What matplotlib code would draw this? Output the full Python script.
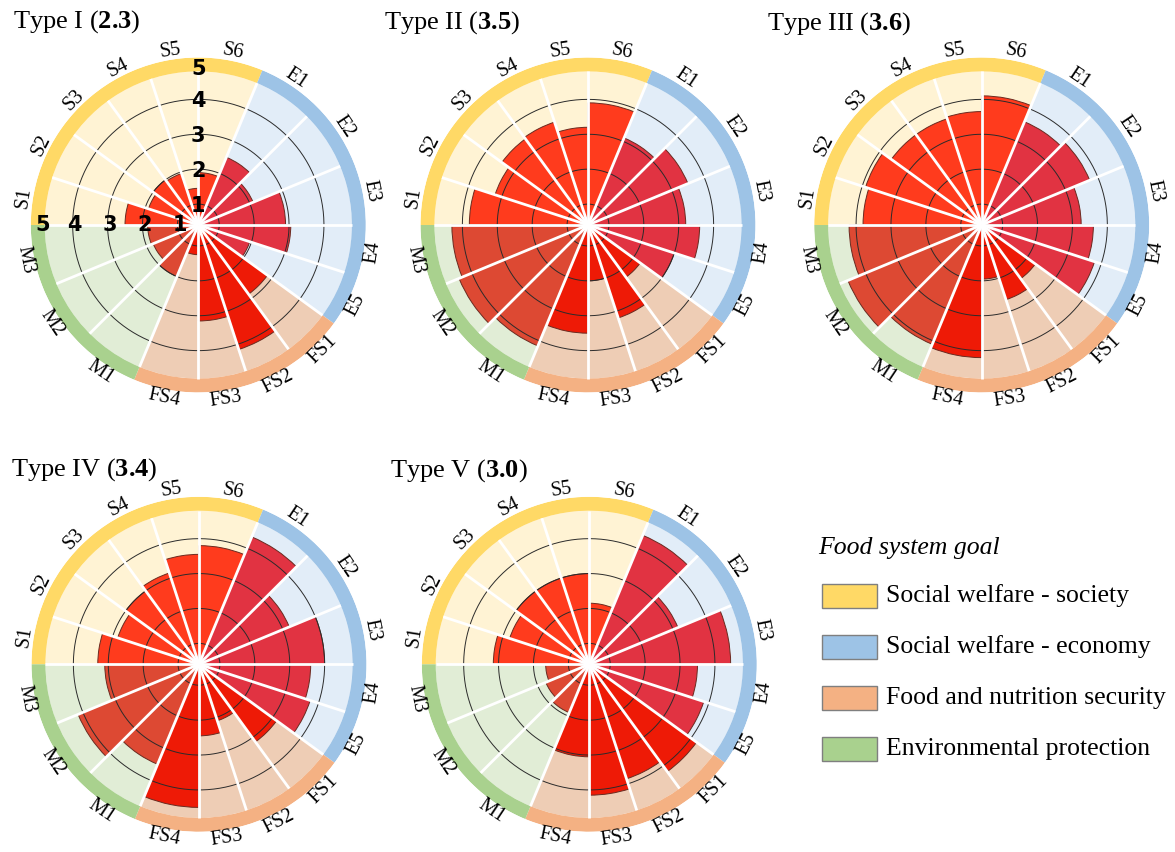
import matplotlib.pyplot as plt
import numpy as np
from matplotlib.patches import Rectangle

plt.rcParams.update(
    {
        "font.family": "Liberation Serif",
        "mathtext.fontset": "custom",
        "mathtext.rm": "Liberation Serif",
        "mathtext.bf": "Liberation Serif:bold",
    }
)

# indicator scores (1-5) per farm type, clockwise from S1
indicators = ["S1", "S2", "S3", "S4", "S5", "S6", "E1", "E2", "E3", "E4", "E5",
              "FS1", "FS2", "FS3", "FS4", "M1", "M2", "M3"]
type_names = ["Type I", "Type II", "Type III", "Type IV", "Type V"]
type_scores = [2.3, 3.5, 3.6, 3.4, 3.0]

type_i = [2.5, 1.9, 2.0, 1.95, 1.45, 1.9, 2.5, 2.1, 2.9, 3.05, 1.95,
          2.85, 4.15, 3.15, 1.25, 2.0, 1.8, 1.85]
type_ii = [3.8, 3.2, 3.45, 3.5, 3.2, 3.9, 3.1, 3.5, 3.2, 3.6, 3.0,
           2.25, 3.2, 2.0, 3.5, 4.15, 4.4, 4.3]
type_iii = [3.8, 3.9, 3.6, 3.6, 3.65, 4.1, 3.6, 3.75, 3.25, 3.6, 3.8,
            2.3, 2.65, 1.95, 4.2, 4.1, 4.55, 4.2]
type_iv = [3.3, 2.85, 3.0, 3.15, 3.55, 3.8, 4.35, 3.2, 4.0, 3.6, 3.75,
           3.15, 2.1, 2.45, 4.5, 3.5, 4.15, 3.1]
type_v = [3.15, 2.8, 3.0, 3.0, 3.0, 2.15, 4.4, 3.15, 4.45, 3.5, 3.85,
          4.2, 3.85, 4.15, 3.05, 1.9, 1.75, 1.65]

goal_keys = ["S", "E", "FS", "M"]
goal_names = ["Social welfare - society", "Social welfare - economy",
              "Food and nutrition security", "Environmental protection"]

ring_colors = {"S": "#FFD966", "E": "#9DC3E6", "FS": "#F4B183", "M": "#A9D18E"}
bg_colors = {"S": "#FFF3D4", "E": "#E2EDF8", "FS": "#EECDB5", "M": "#E1EDD6"}
bar_colors = {"S": "#FF3B1D", "E": "#E13342", "FS": "#EE1A06", "M": "#DD4933"}

R_MIN, R_BG, R_OUT, R_LAB = 0.4, 4.8, 5.2, 5.45
W, H = 1175, 852
PX_PER_UNIT = 34.9


def sector_layout():
    # quadrants from west, clockwise: 5, 4, 5, 4 sectors
    widths = np.concatenate([np.full(n, 90.0 / n) for n in [5, 4, 5, 4]])
    lefts = 270.0 + np.concatenate([[0.0], np.cumsum(widths)[:-1]])
    return np.deg2rad(lefts), np.deg2rad(widths)


def goal_of(name):
    return name.rstrip("0123456789")


def draw_wheel(fig, cx, cy, values, tick_labels=False):
    radius = (R_OUT - R_MIN) * PX_PER_UNIT
    ax = fig.add_axes([(cx - radius) / W, 1 - (cy + radius) / H,
                       2 * radius / W, 2 * radius / H], projection="polar")
    ax.set_theta_zero_location("N")
    ax.set_theta_direction(-1)
    ax.set_ylim(R_MIN, R_OUT)
    ax.set_xticks([])
    ax.set_yticks([])
    ax.grid(False)
    ax.spines["polar"].set_visible(False)
    ax.patch.set_alpha(0)

    lefts, widths = sector_layout()
    centers = lefts + widths / 2
    goals = [goal_of(n) for n in indicators]

    # background wedges and value bars
    ax.bar(centers, R_BG - R_MIN, width=widths, bottom=R_MIN,
           color=[bg_colors[g] for g in goals], linewidth=0, zorder=1)
    ax.bar(centers, np.asarray(values) - R_MIN, width=widths, bottom=R_MIN,
           color=[bar_colors[g] for g in goals], edgecolor="#6a2a20",
           linewidth=0.7, zorder=2)

    # outer goal ring
    for key in goal_keys:
        idx = [i for i, g in enumerate(goals) if g == key]
        start = lefts[idx[0]]
        span = widths[idx].sum()
        ax.bar(start + span / 2, R_OUT - R_BG, width=span, bottom=R_BG,
               color=ring_colors[key], linewidth=0, zorder=1)

    theta = np.linspace(0, 2 * np.pi, 400)
    for level in [1, 2, 3, 4]:
        ax.plot(theta, np.full_like(theta, level), color="#2b2b2b",
                lw=0.7, zorder=3)

    for t in lefts:
        ax.plot([t, t], [R_MIN, R_BG], color="white", lw=2.0,
                solid_capstyle="butt", zorder=4)

    for t, name in zip(centers, indicators):
        deg = np.rad2deg(t) % 360
        rot = 180 - deg if 90 < deg < 270 else -deg
        ax.text(t, R_LAB, name, rotation=rot, rotation_mode="anchor",
                ha="center", va="center", fontsize=14.5, zorder=5)

    if tick_labels:
        for level in [1, 2, 3, 4, 5]:
            r = min(level - 0.06, 4.86)
            for t in [0.0, 1.5 * np.pi]:
                ax.text(t, r, str(level), ha="center", va="center",
                        fontsize=15, fontweight="bold",
                        family="DejaVu Sans", zorder=6)
    return ax


fig = plt.figure(figsize=(W / 100, H / 100), dpi=100)

centers_px = [(198.3, 225), (588, 225), (981.7, 225), (199, 664.3), (589.3, 664.3)]
title_pos = [(13, 28), (384, 29), (767, 30), (11, 476), (390, 477)]
all_values = [type_i, type_ii, type_iii, type_iv, type_v]

for k, (name, score, vals) in enumerate(zip(type_names, type_scores, all_values)):
    cx, cy = centers_px[k]
    draw_wheel(fig, cx, cy, vals, tick_labels=(k == 0))
    tx, ty = title_pos[k]
    fig.text(tx / W, 1 - ty / H, name + r" ($\mathbf{" + f"{score:.1f}" + r"}$)",
             fontsize=19, ha="left", va="baseline")

# legend for the goal ring colours
fig.text(818 / W, 1 - 554 / H, "Food system goal", fontsize=18.5,
         style="italic", ha="left", va="baseline")
for i, (key, label) in enumerate(zip(goal_keys, goal_names)):
    yc = 596 + i * 51
    fig.add_artist(Rectangle((822 / W, 1 - (yc + 12) / H), 55 / W, 24 / H,
                             transform=fig.transFigure, facecolor=ring_colors[key],
                             edgecolor="#7f7f7f", linewidth=1))
    fig.text(886 / W, 1 - yc / H, label, fontsize=18.5, ha="left", va="center")

fig.savefig("out.png", dpi=100)
